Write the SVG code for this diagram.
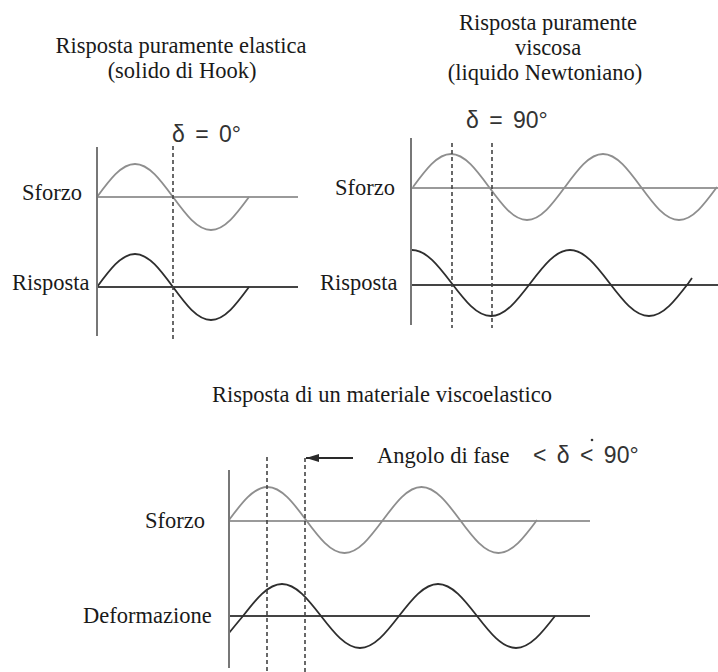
<svg xmlns="http://www.w3.org/2000/svg" width="718" height="672" viewBox="0 0 718 672">
<defs>
<style>
.t{font-family:"Liberation Serif","Times New Roman",serif;font-size:22.5px;fill:#1a1a1a}
.c{text-anchor:middle}
.s{font-family:"Liberation Sans",Arial,sans-serif;font-size:23px;fill:#333;word-spacing:4px}
.ax{stroke:#777;stroke-width:2;fill:none}
.bs{stroke:#9a9a9a;stroke-width:1.8;fill:none}
.br{stroke:#444;stroke-width:1.8;fill:none}
.ws{stroke:#8e8e8e;stroke-width:1.8;fill:none;stroke-linejoin:round}
.wr{stroke:#2e2e2e;stroke-width:1.8;fill:none;stroke-linejoin:round}
.d{stroke:#444;stroke-width:1.6;stroke-dasharray:4 3;fill:none}
</style>
<marker id="ah" viewBox="0 0 13 8" refX="13" refY="4" markerWidth="13" markerHeight="8" markerUnits="userSpaceOnUse" orient="auto">
<path d="M0,0 L13,4 L0,8 Z" fill="#2a2a2a"/>
</marker>
</defs>
<rect width="718" height="672" fill="#fff"/>

<g id="panel-elastic">
<text class="t c" x="181" y="53">Risposta puramente elastica</text>
<text class="t c" x="182" y="78">(solido di Hook)</text>
<text class="s" x="172" y="142">δ = 0°</text>
<text class="t" x="22" y="200">Sforzo</text>
<text class="t" x="12" y="290">Risposta</text>
<line class="bs" x1="97" y1="197" x2="298" y2="197"/>
<line class="br" x1="97" y1="287" x2="298" y2="287"/>
<path class="ws" d="M97,197 C109.4,180.1 121.2,164 135,164 S160.6,180.1 173,197 S197.2,230 211,230 S236.6,213.9 249,197"/>
<path class="wr" d="M97,287 C109.4,270.1 121.2,254 135,254 S160.6,270.1 173,287 S197.2,320 211,320 S236.6,303.9 249,287"/>
<line class="ax" x1="97" y1="147" x2="97" y2="336"/>
<line class="d" x1="173" y1="146" x2="173" y2="340"/>
</g>

<g id="panel-viscous">
<text class="t c" x="548" y="30">Risposta puramente</text>
<text class="t c" x="548" y="55">viscosa</text>
<text class="t c" x="545" y="80">(liquido Newtoniano)</text>
<text class="s" x="466" y="128">δ = 90°</text>
<text class="t" x="335" y="195">Sforzo</text>
<text class="t" x="320" y="290">Risposta</text>
<line class="bs" x1="411" y1="188" x2="718" y2="188"/>
<line class="br" x1="411" y1="285" x2="718" y2="285"/>
<path class="ws" d="M413,187 C425.4,170.1 437.2,154 451,154 S476.6,170.1 489,187 S513.2,220 527,220 S552.6,203.9 565,187 S589.2,154 603,154 S628.6,170.1 641,187 S665.2,220 679,220 S704.6,203.9 717,187"/>
<path class="wr" d="M411,250 L412,250 C426.3,250 438.6,266.1 451.5,283 S476.7,316 491,316 S517.6,299.9 530.5,283 S555.7,250 570,250 S596.6,266.1 609.5,283 S634.7,316 649,316 S675.6,299.9 688.5,283 L692,278"/>
<line class="ax" x1="411" y1="138" x2="411" y2="325"/>
<line class="d" x1="452" y1="143" x2="452" y2="328"/>
<line class="d" x1="492" y1="143" x2="492" y2="328"/>
</g>

<g id="panel-viscoelastic">
<text class="t c" x="382" y="402">Risposta di un materiale viscoelastico</text>
<text class="t" x="377" y="463">Angolo di fase</text>
<text class="s" x="533" y="463">&lt; δ &lt; 90°</text>
<circle cx="592" cy="440" r="1.3" fill="#333"/>
<text class="t" x="145" y="528">Sforzo</text>
<text class="t" x="83" y="623">Deformazione</text>
<line class="bs" x1="229" y1="521" x2="590" y2="521"/>
<line class="br" x1="229" y1="616" x2="590" y2="616"/>
<path class="ws" d="M229,520 C241.6,503.1 253.6,487 267.5,487 S293.5,503.1 306,520 S330.6,553 344.5,553 S370.4,536.9 383,520 S407.6,487 421.5,487 S447.5,503.1 460,520 S484.6,553 498.5,553 S524.5,536.9 537,520"/>
<path class="wr" d="M229,633 C233.7,627.2 238.3,621.6 243,616 C255.7,599.6 267.9,584 282,584 S308.3,599.6 321,616 S345.9,648 360,648 S386.3,632.4 399,616 S423.9,584 438,584 S464.3,599.6 477,616 S501.9,648 516,648 S542.3,632.4 555,616"/>
<line class="ax" x1="229" y1="470" x2="229" y2="668"/>
<line class="d" x1="267" y1="457" x2="267" y2="672"/>
<line class="d" x1="305" y1="458" x2="305" y2="672"/>
</g>

<g id="connectors">
<line x1="353" y1="458" x2="306" y2="458" stroke="#2a2a2a" stroke-width="1.8" marker-end="url(#ah)"/>
</g>
</svg>
